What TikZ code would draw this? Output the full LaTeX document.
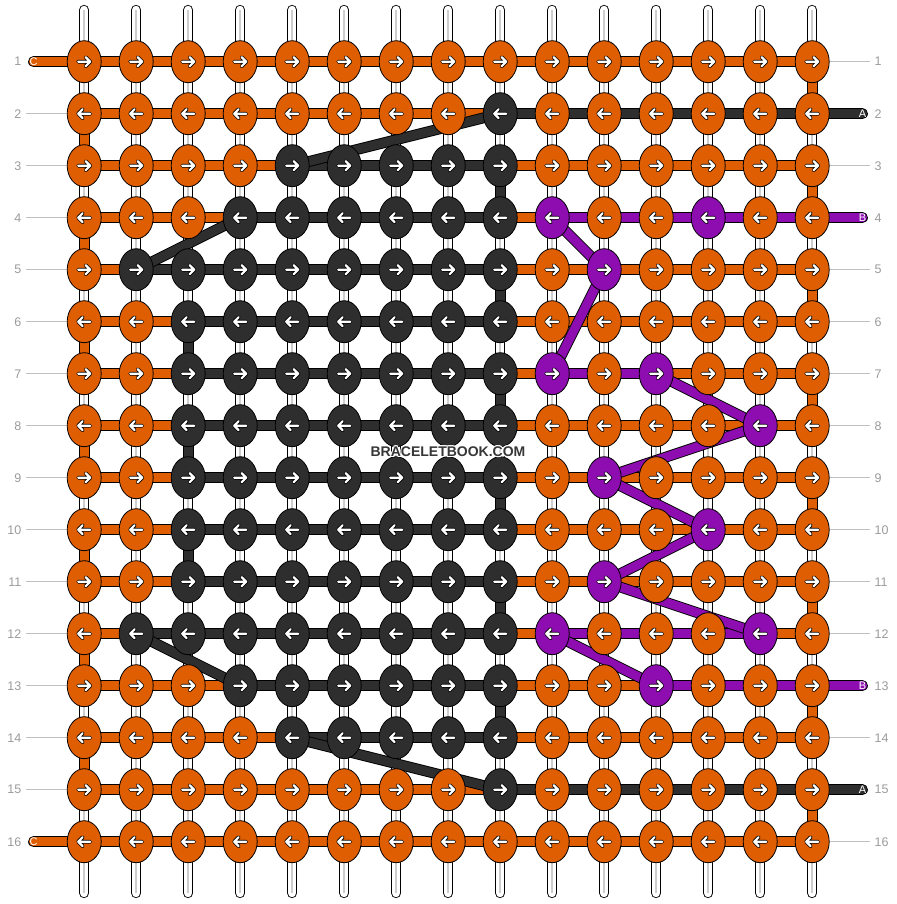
\documentclass[tikz,border=0pt]{standalone}
\usepackage{fontspec}
\setmainfont{Liberation Sans}
\usepackage{xcolor}
\usepackage{tikz}
\usetikzlibrary{shapes.geometric}
\definecolor{ThreadOrange}{RGB}{223,94,2}
\definecolor{ThreadDark}{RGB}{46,46,46}
\definecolor{ThreadPurple}{RGB}{141,13,176}
\definecolor{GuideGray}{RGB}{192,192,192}
\definecolor{LabelGray}{RGB}{155,155,155}
\definecolor{StrandGray}{RGB}{205,205,205}
\definecolor{MarkGray}{RGB}{55,55,55}
\pgfdeclarelayer{strands}
\pgfdeclarelayer{bars}
\pgfdeclarelayer{diags}
\pgfsetlayers{strands,bars,diags,main}
% white halo round the watermark
\newcommand\halotext[1]{%
    \makebox[0pt][l]{\color{white}%
        \makebox[0pt][l]{\hspace*{-0.9pt}#1}%
        \makebox[0pt][l]{\hspace*{0.9pt}#1}%
        \makebox[0pt][l]{\raisebox{0.9pt}{#1}}%
        \makebox[0pt][l]{\raisebox{-0.9pt}{#1}}%
        \makebox[0pt][l]{\hspace*{-0.7pt}\raisebox{0.7pt}{#1}}%
        \makebox[0pt][l]{\hspace*{0.7pt}\raisebox{-0.7pt}{#1}}%
        \makebox[0pt][l]{\hspace*{0.7pt}\raisebox{0.7pt}{#1}}%
        \makebox[0pt][l]{\hspace*{-0.7pt}\raisebox{-0.7pt}{#1}}}%
    #1}
\tikzset{
    knot/.style={ellipse, draw=black, line width=0.8pt, minimum width=34pt, minimum height=42pt, inner sep=0pt},
    knotarrow/.style={path picture={
        \foreach \aw/\ac in {3.8pt/black, 2.2pt/white}{
            \draw[draw=\ac, line width=\aw, line cap=round, line join=round]
                ([xshift={-6pt*(#1)}]path picture bounding box.center) -- ([xshift={6pt*(#1)}]path picture bounding box.center)
                ([xshift={1.5pt*(#1)}, yshift=4.5pt]path picture bounding box.center) -- ([xshift={6pt*(#1)}]path picture bounding box.center)
                -- ([xshift={1.5pt*(#1)}, yshift=-4.5pt]path picture bounding box.center);
        }}},
    strand/.style={draw=black, line width=0.9pt, double=white, double distance=8.5pt, line cap=round},
    strandmid/.style={draw=StrandGray, line width=1.6pt},
    bar/.style={draw=black, line width=0.9pt, double=#1, double distance=9pt},
    threadend/.style={bar=#1, line cap=round},
    guide/.style={draw=GuideGray, line width=1pt},
    rowlabel/.style={text=LabelGray, font=\fontsize{12.5}{14}\selectfont, inner sep=0pt},
    endlabel/.style={text=white, font=\fontsize{11}{13}\selectfont, inner sep=0pt}
}

\begin{document}
\begin{tikzpicture}[x=1pt, y=-1pt]
    \useasboundingbox (0,0) rectangle (896,904);

    % --- purple knots ---
    \foreach \p in {4-10,4-13,5-11,7-10,7-12,8-14,9-11,10-13,11-11,12-10,12-14,13-12}
        {\expandafter\gdef\csname purple@\p\endcsname{}}

    % --- KNOTS: row / first and last dark column ---
    \foreach \r/\a/\b in {1/0/0, 2/9/9, 3/5/9, 4/4/9, 5/2/9, 6/3/9, 7/3/9, 8/3/9,
                          9/3/9, 10/3/9, 11/3/9, 12/2/9, 13/4/9, 14/5/9, 15/9/9, 16/0/0}{
        \pgfmathsetmacro\yy{61.7+52*(\r-1)}
        \ifodd\r\relax\def\kdir{1}\else\def\kdir{-1}\fi
        \foreach \c in {1,...,15}{
            \pgfmathsetmacro\xx{84.2+52*(\c-1)}
            \def\kcol{ThreadOrange}
            \ifnum\c<\a\relax\else\ifnum\c>\b\relax\else\def\kcol{ThreadDark}\fi\fi
            \ifcsname purple@\r-\c\endcsname\def\kcol{ThreadPurple}\fi
            \node[knot, fill=\kcol, knotarrow=\kdir] (k-\r-\c) at (\xx,\yy) {};
        }
    }

    % --- row numbers ---
    \foreach \r in {1,...,16}{
        \node[rowlabel, anchor=east] (ll-\r) at (21.5,{61.7+52*(\r-1)}) {\r};
        \node[rowlabel, anchor=west] (rl-\r) at (874.5,{61.7+52*(\r-1)}) {\r};
    }

    % --- thread ends ---
    \node[endlabel] (tC-1) at (33.5,61.7) {C};
    \node[endlabel] (tC-16) at (33.5,841.7) {C};
    \node[endlabel] (tA-2) at (862.5,113.7) {A};
    \node[endlabel] (tA-15) at (862.5,789.7) {A};
    \node[endlabel] (tB-4) at (862.5,217.7) {B};
    \node[endlabel] (tB-13) at (862.5,685.7) {B};

    \begin{pgfonlayer}{strands}
        % vertical strands
        \foreach \c in {1,...,15}{
            \path (k-1-\c) ++(0,-51.7) coordinate (top-\c);
            \path (k-16-\c) ++(0,51.3) coordinate (bot-\c);
            \draw[strand] (top-\c) -- (bot-\c);
            \draw[strandmid] (top-\c) -- (bot-\c);
        }
        % guide lines to the numbers
        \foreach \r in {2,...,15}{
            \coordinate (gl-\r) at (26,{61.7+52*(\r-1)});
            \draw[guide] (gl-\r) -- (k-\r-1);
        }
        \foreach \r in {1,3,5,6,7,8,9,10,11,12,14,16}{
            \coordinate (gr-\r) at (870,{61.7+52*(\r-1)});
            \draw[guide] (k-\r-15) -- (gr-\r);
        }
    \end{pgfonlayer}

    \begin{pgfonlayer}{bars}
        % orange row thread
        \foreach \r in {1,...,16}
            \draw[bar=ThreadOrange] (k-\r-1.center) -- (k-\r-15.center);
        \foreach \r/\s in {1/2,3/4,5/6,7/8,9/10,11/12,13/14,15/16}
            \draw[bar=ThreadOrange] (k-\r-15.center) -- (k-\s-15.center);
        \foreach \r/\s in {2/3,4/5,6/7,8/9,10/11,12/13,14/15}
            \draw[bar=ThreadOrange] (k-\r-1.center) -- (k-\s-1.center);
        \draw[threadend=ThreadOrange] (tC-1.center) -- (k-1-1.center);
        \draw[threadend=ThreadOrange] (tC-16.center) -- (k-16-1.center);
        % dark thread
        \foreach \r/\a/\b in {3/5/9, 4/4/9, 5/2/9, 6/3/9, 7/3/9, 8/3/9, 9/3/9,
                              10/3/9, 11/3/9, 12/2/9, 13/4/9, 14/5/9}
            \draw[bar=ThreadDark] (k-\r-\a.center) -- (k-\r-\b.center);
        \foreach \r/\s/\c in {3/4/9, 5/6/9, 7/8/9, 9/10/9, 11/12/9, 13/14/9, 6/7/3, 8/9/3, 10/11/3}
            \draw[bar=ThreadDark] (k-\r-\c.center) -- (k-\s-\c.center);
        \draw[threadend=ThreadDark] (k-2-9.center) -- (tA-2.center);
        \draw[threadend=ThreadDark] (k-15-9.center) -- (tA-15.center);
        % purple thread
        \draw[threadend=ThreadPurple] (k-4-10.center) -- (tB-4.center);
        \draw[bar=ThreadPurple] (k-7-10.center) -- (k-7-12.center);
        \draw[bar=ThreadPurple] (k-12-10.center) -- (k-12-14.center);
        \draw[threadend=ThreadPurple] (k-13-12.center) -- (tB-13.center);
    \end{pgfonlayer}

    \begin{pgfonlayer}{diags}
        \foreach \p/\q/\cl in {2-9/3-5/ThreadDark, 4-4/5-2/ThreadDark, 12-2/13-4/ThreadDark, 14-5/15-9/ThreadDark,
                               4-10/5-11/ThreadPurple, 5-11/7-10/ThreadPurple, 7-12/8-14/ThreadPurple,
                               8-14/9-11/ThreadPurple, 9-11/10-13/ThreadPurple, 10-13/11-11/ThreadPurple,
                               11-11/12-14/ThreadPurple, 12-10/13-12/ThreadPurple}
            \draw[bar=\cl] (k-\p.center) -- (k-\q.center);
    \end{pgfonlayer}

    % --- watermark ---
    \node[font=\bfseries\fontsize{14}{16}\selectfont, text=MarkGray, inner sep=0pt] (mark) at (448,451.5)
        {\halotext{BRACELETBOOK.COM}};
\end{tikzpicture}
\end{document}
